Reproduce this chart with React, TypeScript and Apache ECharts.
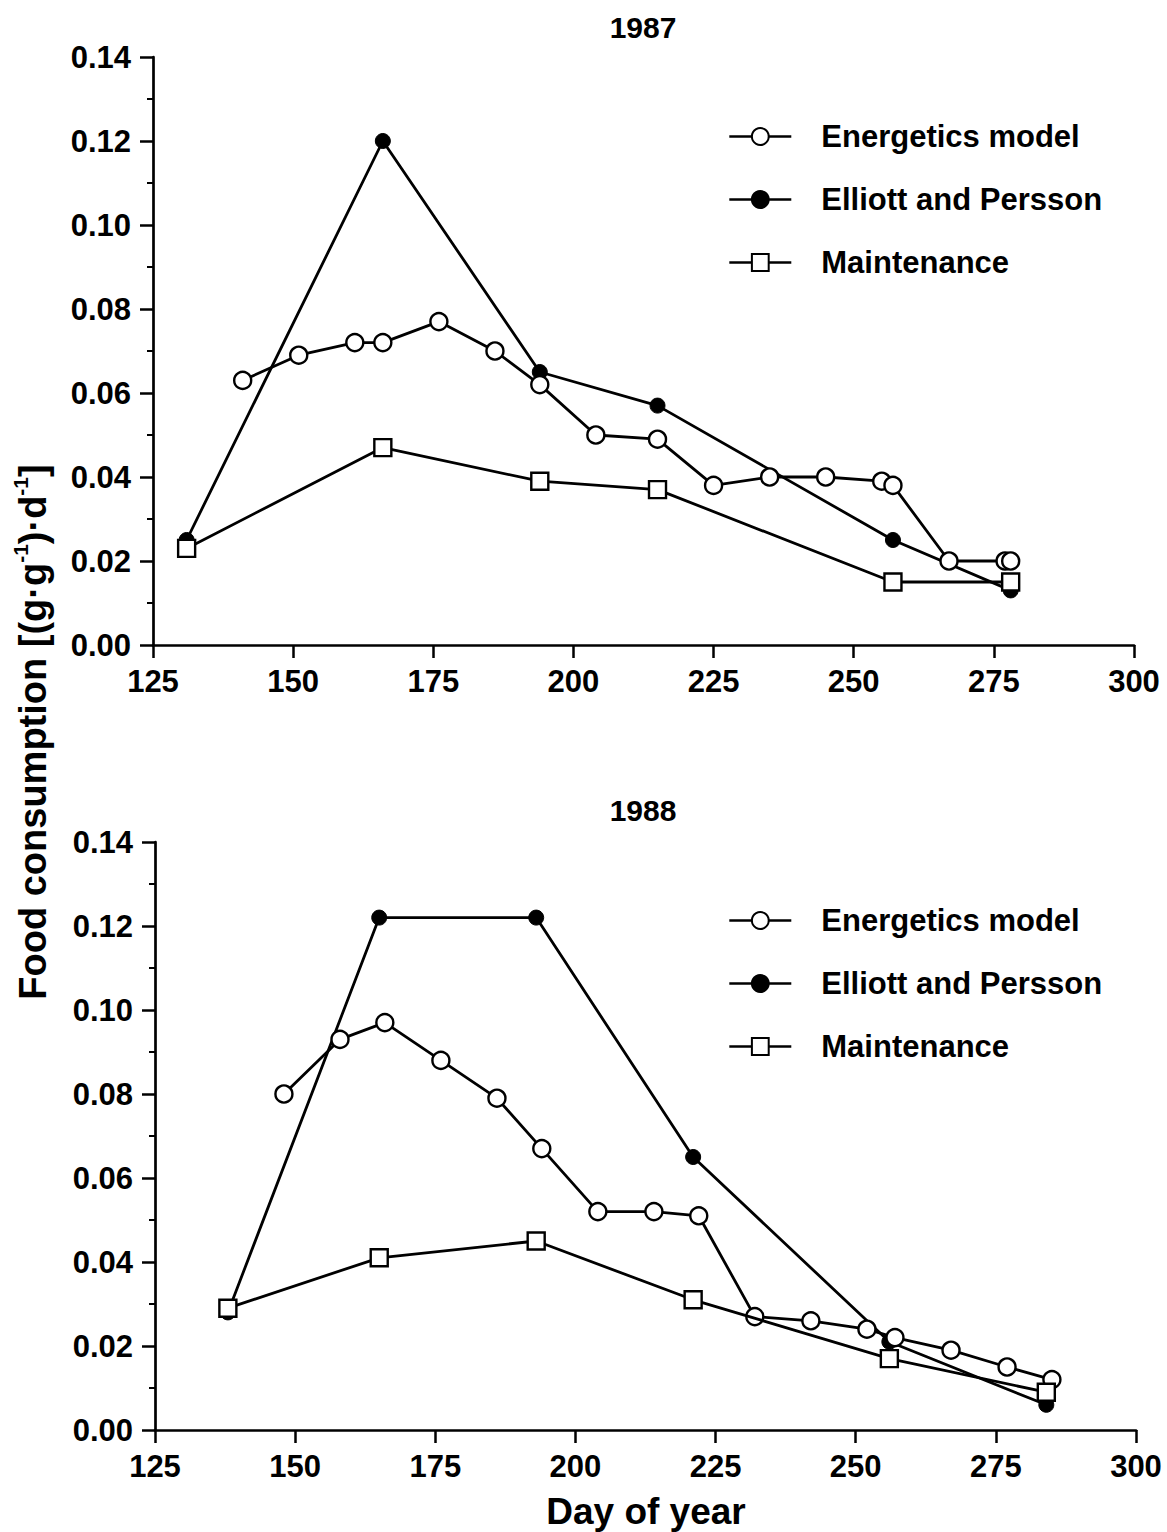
import React, { useEffect, useRef } from "react";
import * as echarts from "echarts";

const FONT = "'Liberation Sans', Arial, Helvetica, sans-serif";

const seriesNames = ["Energetics model", "Elliott and Persson", "Maintenance"];

// 1987
const days87Energetics = [141, 151, 161, 166, 176, 186, 194, 204, 215, 225, 235, 245, 255, 257, 267, 277, 278];
const vals87Energetics = [0.063, 0.069, 0.072, 0.072, 0.077, 0.070, 0.062, 0.050, 0.049, 0.038, 0.040, 0.040, 0.039, 0.038, 0.020, 0.020, 0.020];
const days87Elliott = [131, 166, 194, 215, 257, 278];
const vals87Elliott = [0.025, 0.120, 0.065, 0.057, 0.025, 0.013];
const days87Maint = [131, 166, 194, 215, 257, 278];
const vals87Maint = [0.023, 0.047, 0.039, 0.037, 0.015, 0.015];

// 1988
const days88Energetics = [148, 158, 166, 176, 186, 194, 204, 214, 222, 232, 242, 252, 257, 267, 277, 285];
const vals88Energetics = [0.080, 0.093, 0.097, 0.088, 0.079, 0.067, 0.052, 0.052, 0.051, 0.027, 0.026, 0.024, 0.022, 0.019, 0.015, 0.012];
const days88Elliott = [138, 165, 193, 221, 256, 284];
const vals88Elliott = [0.028, 0.122, 0.122, 0.065, 0.021, 0.006];
const days88Maint = [138, 165, 193, 221, 256, 284];
const vals88Maint = [0.029, 0.041, 0.045, 0.031, 0.017, 0.009];

const panelTitles = ["1987", "1988"];
const xTitle = "Day of year";

const zip = (xs: number[], ys: number[]) => xs.map((x, i) => [x, ys[i]]);

const styleFor = (name: string) => {
  if (name === "Energetics model")
    return { symbol: "circle", symbolSize: 17, itemStyle: { color: "#fff", borderColor: "#000", borderWidth: 2.4 }, z: 3 };
  if (name === "Elliott and Persson")
    return { symbol: "circle", symbolSize: 15, itemStyle: { color: "#000", borderColor: "#000", borderWidth: 1 }, z: 2 };
  return { symbol: "rect", symbolSize: 17, itemStyle: { color: "#fff", borderColor: "#000", borderWidth: 2.4 }, z: 4 };
};

const makeSeries = (name: string, xs: number[], ys: number[], idx: number) => ({
  type: "line",
  name,
  xAxisIndex: idx,
  yAxisIndex: idx,
  data: zip(xs, ys),
  lineStyle: { color: "#000", width: 2.8 },
  ...styleFor(name),
});

const axisText = { color: "#000", fontFamily: FONT, fontWeight: "bold" as const, fontSize: 31 };

const makeX = (idx: number) => ({
  type: "value",
  gridIndex: idx,
  min: 125,
  max: 300,
  interval: 25,
  axisLine: { show: true, onZero: false, lineStyle: { color: "#000", width: 2.7 } },
  axisTick: { show: true, length: 13, lineStyle: { color: "#000", width: 2.5 } },
  axisLabel: { ...axisText, margin: 21 },
  splitLine: { show: false },
});

const makeY = (idx: number) => ({
  type: "value",
  gridIndex: idx,
  min: 0,
  max: 0.14,
  interval: 0.02,
  axisLine: { show: true, onZero: false, lineStyle: { color: "#000", width: 2.7 } },
  axisTick: { show: true, length: 13, lineStyle: { color: "#000", width: 2.5 } },
  minorTick: { show: true, splitNumber: 2, length: 6, lineStyle: { color: "#000", width: 2 } },
  axisLabel: { ...axisText, margin: 22, formatter: (v: number) => v.toFixed(2) },
  splitLine: { show: false },
});

const makeLegend = (top: number) => ({
  orient: "vertical",
  left: 723,
  top,
  data: seriesNames,
  itemWidth: 62,
  itemHeight: 21,
  itemGap: 32,
  selectedMode: false,
  lineStyle: { width: 2.6, color: "#000" },
  textStyle: { ...axisText, fontSize: 31, lineHeight: 31, padding: [0, 0, 0, 25] },
});

export default function App() {
  const ref = useRef<HTMLDivElement>(null);
  useEffect(() => {
    if (!ref.current) return;
    const chart = echarts.init(ref.current, undefined, { renderer: "svg" });
    chart.setOption({
      animation: false,
      backgroundColor: "#fff",
      grid: [
        { left: 153, top: 57, width: 981, height: 588 },
        { left: 155, top: 842, width: 981, height: 588 },
      ],
      xAxis: [makeX(0), makeX(1)],
      yAxis: [makeY(0), makeY(1)],
      legend: [makeLegend(116), makeLegend(900)],
      series: [
        makeSeries("Elliott and Persson", days87Elliott, vals87Elliott, 0),
        makeSeries("Energetics model", days87Energetics, vals87Energetics, 0),
        makeSeries("Maintenance", days87Maint, vals87Maint, 0),
        makeSeries("Elliott and Persson", days88Elliott, vals88Elliott, 1),
        makeSeries("Energetics model", days88Energetics, vals88Energetics, 1),
        makeSeries("Maintenance", days88Maint, vals88Maint, 1),
      ],
      graphic: [
        {
          type: "text",
          x: 643,
          y: 27,
          style: { text: panelTitles[0], fill: "#000", font: `bold 30px ${FONT}`, textAlign: "center", textVerticalAlign: "middle" },
        },
        {
          type: "text",
          x: 643,
          y: 810,
          style: { text: panelTitles[1], fill: "#000", font: `bold 30px ${FONT}`, textAlign: "center", textVerticalAlign: "middle" },
        },
        {
          type: "text",
          x: 646,
          y: 1511,
          style: { text: xTitle, fill: "#000", font: `bold 37px ${FONT}`, textAlign: "center", textVerticalAlign: "middle" },
        },
        {
          type: "text",
          x: 31,
          y: 732,
          rotation: Math.PI / 2,
          style: {
            text: "{a|Food consumption [(g·g}{s|-1}{a|)·d}{s|-1}{a|]}",
            fill: "#000",
            textAlign: "center",
            textVerticalAlign: "middle",
            rich: {
              a: { fontFamily: FONT, fontWeight: "bold", fontSize: 38, lineHeight: 42, fill: "#000", verticalAlign: "bottom" },
              s: { fontFamily: FONT, fontWeight: "bold", fontSize: 21, lineHeight: 42, fill: "#000", verticalAlign: "top" },
            },
          },
        },
      ],
    });
    return () => chart.dispose();
  }, []);
  return <div ref={ref} style={{ position: "absolute", left: 0, top: 0, width: 1167, height: 1532, background: "#fff" }} />;
}
